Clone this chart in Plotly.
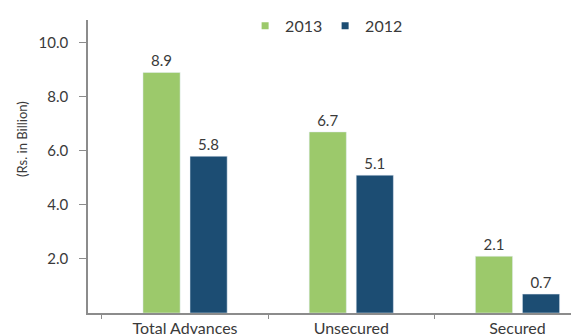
import plotly.graph_objects as go

categories = ["Total Advances", "Unsecured", "Secured"]
values_2013 = [8.9, 6.7, 2.1]
values_2012 = [5.8, 5.1, 0.7]
tick_values = [2, 4, 6, 8, 10]

GREEN = "#9cc96b"
BLUE = "#1c4d73"
TEXT = "#3a3a3a"
FONT = "Lato"

fig = go.Figure()
fig.add_trace(go.Bar(
    name="2013", x=categories, y=values_2013, marker_color=GREEN,
    text=[f"{v:.1f}" for v in values_2013], textposition="outside",
    textfont=dict(size=15, color=TEXT, family=FONT), cliponaxis=False,
    showlegend=False,
))
fig.add_trace(go.Bar(
    name="2012", x=categories, y=values_2012, marker_color=BLUE,
    text=[f"{v:.1f}" for v in values_2012], textposition="outside",
    textfont=dict(size=15, color=TEXT, family=FONT), cliponaxis=False,
    showlegend=False,
))
# legend entries with small square swatches
for name, col in (("2013", GREEN), ("2012", BLUE)):
    fig.add_trace(go.Scatter(
        name=name, x=[None], y=[None], mode="markers",
        marker=dict(symbol="square", size=7, color=col),
    ))

# the page body adds an 8px offset, so the figure is sized to fit the window
fig.update_layout(
    width=571, height=328,
    margin=dict(l=80, r=0, t=12, b=23, autoexpand=False),
    paper_bgcolor="white", plot_bgcolor="white",
    barmode="group", bargap=0.434, bargroupgap=0.21,
    font=dict(family=FONT, size=15, color=TEXT),
    showlegend=True,
    legend=dict(orientation="h", x=0.32, xanchor="left", y=0.98, yanchor="middle",
                font=dict(size=16, color=TEXT, family=FONT), bgcolor="rgba(0,0,0,0)",
                entrywidth=35, entrywidthmode="pixels",
                itemwidth=30, traceorder="normal", tracegroupgap=0),
    xaxis=dict(
        type="category", range=[-0.584, 2.37], automargin=False,
        showline=True, linecolor="#8c8c8c", linewidth=1.5,
        ticks="outside", tickson="boundaries", ticklen=4, tickcolor="#8c8c8c",
        showgrid=False, tickfont=dict(size=16, color=TEXT, family=FONT),
    ),
    yaxis=dict(
        range=[0, 10.84], tickvals=tick_values, tickformat=".1f", automargin=False,
        showline=True, linecolor="#8c8c8c", linewidth=1.5,
        ticks="outside", ticklen=7, tickcolor="#8c8c8c",
        showgrid=False, zeroline=False, ticklabelstandoff=8,
        tickfont=dict(size=15, color=TEXT, family=FONT),
    ),
    annotations=[dict(
        text="(Rs. in Billion)", xref="paper", yref="paper",
        x=-0.133, y=0.593, xanchor="center", yanchor="middle", textangle=-90,
        showarrow=False, font=dict(size=13, color=TEXT, family=FONT),
    )],
)

fig.write_html("out.html")
